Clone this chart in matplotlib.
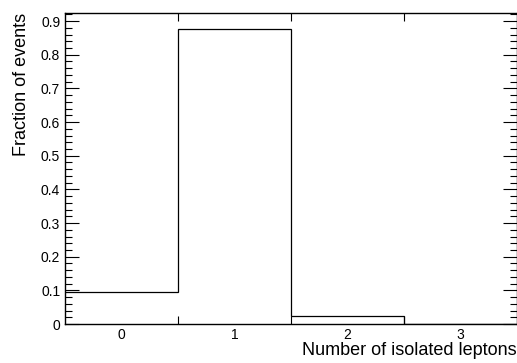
import matplotlib
matplotlib.use("Agg")
import matplotlib.pyplot as plt
import numpy as np
from matplotlib.ticker import MultipleLocator

plt.rcParams['font.family'] = ['Liberation Sans', 'DejaVu Sans']

bin_edges = [-0.5, 0.5, 1.5, 2.5, 3.5]
bin_labels = ["0", "1", "2", "3"]
fractions = [0.094, 0.877, 0.025, 0.0]

fig = plt.figure(figsize=(5.17, 3.63), dpi=100)
ax = fig.add_axes([0.1257, 0.1074, 0.8743, 0.8567])

ax.stairs(fractions, bin_edges, color='black', linewidth=0.9, baseline=None)

ax.set_xlim(bin_edges[0], bin_edges[-1])
ax.set_ylim(0, 0.924)

centers = [(bin_edges[i] + bin_edges[i + 1]) / 2 for i in range(len(bin_labels))]
ax.set_xticks(bin_edges[1:-1])
ax.set_xticklabels([])
ax.set_xticks(centers, minor=True)
ax.set_xticklabels(bin_labels, minor=True)
ax.tick_params(axis='x', which='minor', length=0, pad=3, labelsize=10)
ax.tick_params(axis='x', which='major', length=6, direction='in', top=True, bottom=True, width=0.8)

ax.set_yticks(np.arange(0, 0.95, 0.1))
ax.set_yticklabels(["0"] + ["%.1f" % v for v in np.arange(0.1, 0.95, 0.1)])
ax.yaxis.set_minor_locator(MultipleLocator(0.02))
ax.tick_params(axis='y', which='major', length=10, direction='in', left=True, right=True, labelsize=10, width=0.8)
ax.tick_params(axis='y', which='minor', length=5, direction='in', left=True, right=True, width=0.8)

for s in ax.spines.values():
    s.set_linewidth(1.0)

ax.set_ylabel("Fraction of events", fontsize=13, loc='top', labelpad=8)
ax.set_xlabel("Number of isolated leptons", fontsize=13, loc='right', labelpad=0)

fig.savefig("out.png", dpi=100)
